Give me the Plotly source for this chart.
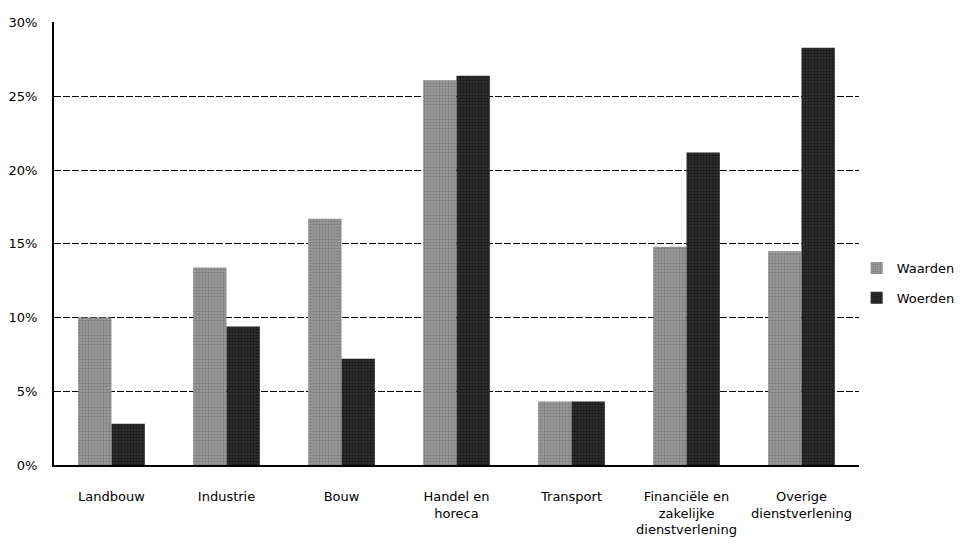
import plotly.graph_objects as go

categories = ["Landbouw", "Industrie", "Bouw", "Handel en<br>horeca", "Transport",
              "Financiële en<br>zakelijke<br>dienstverlening", "Overige<br>dienstverlening"]
waarden = [10.0, 13.4, 16.7, 26.1, 4.3, 14.8, 14.5]
woerden = [2.8, 9.4, 7.2, 26.4, 4.3, 21.2, 28.3]
tick_vals = [0, 5, 10, 15, 20, 25, 30]
tick_text = ["0%", "5%", "10%", "15%", "20%", "25%", "30%"]

FONT = "DejaVu Sans"

fig = go.Figure()
fig.add_trace(go.Bar(
    x=categories, y=waarden, name="Waarden", legendgroup="a",
    marker=dict(color="#8c8c8c", line=dict(width=0),
                pattern=dict(shape=".", fgcolor="#5a5a5a", bgcolor="#9a9a9a", size=3, solidity=0.4)),
))
fig.add_trace(go.Bar(
    x=categories, y=woerden, name="Woerden", legendgroup="b",
    marker=dict(color="#1c1c1c", line=dict(width=0),
                pattern=dict(shape=".", fgcolor="#000000", bgcolor="#2e2e2e", size=3, solidity=0.4)),
))

# page body has an 8px margin, so the figure is shrunk and shifted accordingly
fig.update_layout(
    width=971, height=537,
    margin=dict(l=46, r=120, t=14, b=80, autoexpand=False),
    paper_bgcolor="white", plot_bgcolor="white",
    barmode="group", bargap=0.42, bargroupgap=0,
    font=dict(family=FONT, size=13, color="black"),
    showlegend=True,
    legend=dict(xref="container", yref="container", x=0.874, xanchor="left",
                y=0.488, yanchor="middle",
                font=dict(family=FONT, size=13, color="black"),
                tracegroupgap=10, itemwidth=30, bgcolor="rgba(0,0,0,0)"),
    xaxis=dict(showline=True, linecolor="black", linewidth=2, showgrid=False,
               automargin=False,
               ticks="outside", ticklen=18, tickcolor="white",
               tickfont=dict(family=FONT, size=13, color="black"), tickangle=0),
    yaxis=dict(range=[0, 30.05], tickvals=tick_vals, ticktext=tick_text,
               automargin=False,
               showline=True, linecolor="black", linewidth=2,
               showgrid=True, gridcolor="black", gridwidth=1, griddash="7px,2px",
               zeroline=False, ticks="outside", ticklen=12, tickcolor="white",
               tickfont=dict(family=FONT, size=13, color="black")),
)

fig.write_html("out.html")
